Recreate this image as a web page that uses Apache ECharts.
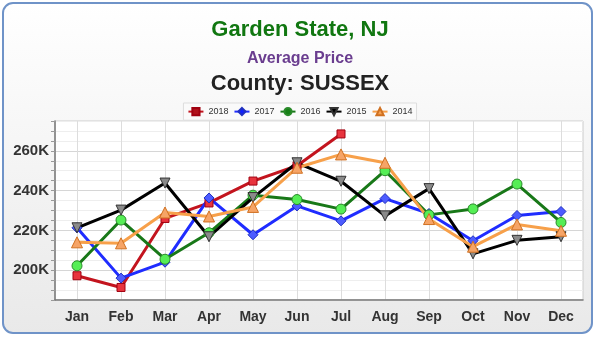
<!DOCTYPE html>
<html><head><meta charset="utf-8">
<script src="https://cdn.jsdelivr.net/npm/echarts@6/dist/echarts.min.js"></script>
<style>html,body{margin:0;padding:0;background:#fff;}#c{width:600px;height:339px;}</style>
</head><body><div id="c"></div>
<script>
const months = ['Jan','Feb','Mar','Apr','May','Jun','Jul','Aug','Sep','Oct','Nov','Dec'];
const s2018 = [197200, 191300, 226000, 233800, 244800, 252500, 268500, null, null, null, null, null];
const s2017 = [221300, 196000, 204000, 236300, 217800, 232300, 224800, 236000, 228500, 214800, 227500, 229500];
const s2016 = [202200, 225200, 205500, 218800, 237700, 235500, 230700, 250000, 227800, 230800, 243300, 224000];
const s2015 = [221300, 230200, 243800, 216800, 236500, 254000, 244700, 227300, 241000, 208200, 215000, 216800];
const s2014 = [214000, 213500, 229000, 227000, 231800, 251500, 258200, 254000, 225700, 211800, 223000, 219800];
const yMin = 185000, yMax = 275000, yStep = 5000, yLabelStep = 20000;

const chart = echarts.init(document.getElementById('c'), null, {renderer:'canvas'});
function mk(name, data, lineColor, fill, stroke, symbol, size, rotate) {
  return {
    name, type:'line', data, symbol, symbolSize:size, symbolRotate:rotate||0,
    connectNulls:false,
    lineStyle:{color:lineColor, width:3},
    itemStyle:{color:fill, borderColor:stroke, borderWidth:1},
    emphasis:{disabled:true},
    z: 3
  };
}
const font = '"Liberation Sans", Arial, sans-serif';
chart.setOption({
  animation:false,
  graphic:[{
    type:'rect', z:-10, silent:true,
    shape:{x:3,y:3,width:589,height:330,r:10},
    style:{
      fill:new echarts.graphic.LinearGradient(0,0,0,1,[{offset:0,color:'#ffffff'},{offset:1,color:'#e9e9e9'}]),
      stroke:'#6f93c8', lineWidth:2
    }
  }],
  title:[
    {text:'Garden State, NJ', left:'center', top:14, textStyle:{fontFamily:font, fontSize:22, fontWeight:'bold', color:'#117711'}},
    {text:'Average Price', left:'center', top:46, textStyle:{fontFamily:font, fontSize:16, fontWeight:'bold', color:'#6a3d8f'}},
    {text:'County: SUSSEX', left:'center', top:68, textStyle:{fontFamily:font, fontSize:22, fontWeight:'bold', color:'#222'}}
  ],
  legend:{
    top:103, left:'center', itemWidth:15, itemHeight:9, itemGap:5,
    padding:[4,4], borderColor:'#ddd', borderWidth:1, backgroundColor:'#fafafa',
    textStyle:{fontFamily:font, fontSize:9, color:'#333'},
    data:[
      {name:'2018', itemStyle:{color:'#b0101a'}},
      {name:'2017', itemStyle:{color:'#1020ff'}},
      {name:'2016', itemStyle:{color:'#168016'}},
      {name:'2015', itemStyle:{color:'#000'}},
      {name:'2014', itemStyle:{color:'#f5a050'}}
    ]
  },
  grid:{left:55, right:17, top:121, bottom:39, show:true, backgroundColor:'#fff', borderColor:'#ccc', borderWidth:1},
  xAxis:{
    type:'category', data:months, boundaryGap:true,
    axisLine:{lineStyle:{color:'#777', width:1.5}},
    axisTick:{alignWithLabel:true, length:5, lineStyle:{color:'#999'}},
    splitLine:{show:true, alignWithLabel:true, lineStyle:{color:'#ddd'}},
    axisLabel:{fontFamily:font, fontSize:14, fontWeight:'bold', color:'#333', margin:10}
  },
  yAxis:{
    type:'value', min:yMin, max:yMax, interval:yStep,
    axisLine:{show:true, lineStyle:{color:'#777', width:1.5}},
    axisTick:{show:true, length:4, lineStyle:{color:'#999'}},
    splitLine:{show:true, lineStyle:{color:['#eeeeee','#eeeeee','#eeeeee','#d6d6d6']}},
    axisLabel:{fontFamily:font, fontSize:15, fontWeight:'bold', color:'#333', margin:6,
      formatter:v => (v % yLabelStep === 0 ? (v/1000)+'K' : '')}
  },
  series:[
    mk('2018', s2018, '#c3141e', '#e8343e', '#a00010', 'rect', 8),
    mk('2017', s2017, '#1f2cff', '#4d5cff', '#2030c0', 'diamond', 10),
    mk('2016', s2016, '#187818', '#55ee55', '#2a8a2a', 'circle', 10),
    mk('2015', s2015, '#000000', '#8a8a8a', '#333333', 'triangle', 10, 180),
    mk('2014', s2014, '#f7a04a', '#f6a466', '#d07020', 'triangle', 11)
  ]
});
</script></body></html>
